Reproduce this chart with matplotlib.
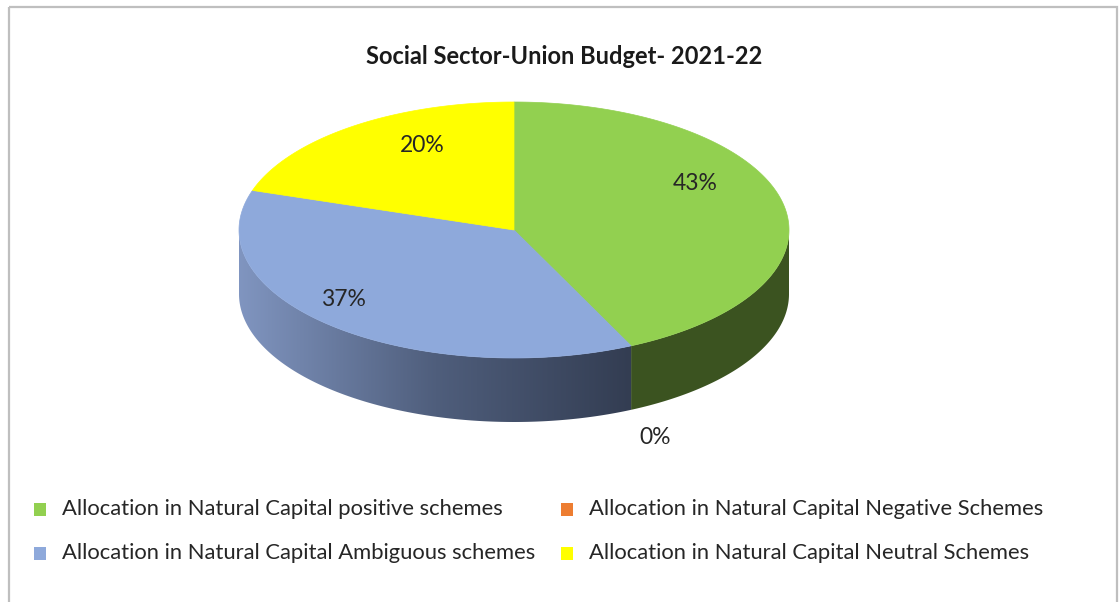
import numpy as np
import matplotlib.pyplot as plt
from matplotlib.patches import Polygon, Rectangle
from matplotlib.colors import LinearSegmentedColormap

plt.rcParams['font.family'] = ['Lato', 'DejaVu Sans']

title = 'Social Sector-Union Budget- 2021-22'
labels = [
    'Allocation in Natural Capital positive schemes',
    'Allocation in Natural Capital Negative Schemes',
    'Allocation in Natural Capital Ambiguous schemes',
    'Allocation in Natural Capital Neutral Schemes',
]
shares = [43, 0, 37, 20]
top_colors = ['#92D050', '#ED7D31', '#8EA9DB', '#FFFF00']
side_colors = ['#3B5320', '#8A4A1C', None, '#999900']
# blue wall is shaded with a left-to-right gradient
blue_wall = LinearSegmentedColormap.from_list('wall', ['#8095C0', '#4F5E7C', '#333D52'])

# label anchors (pixels) for each slice value
label_pos = [(695, 183), (655, 438), (343, 300), (422, 146)]

W, H = 1119, 602
fig = plt.figure(figsize=(W / 100, H / 100), dpi=100)
ax = fig.add_axes([0, 0, 1, 1])
ax.set_xlim(0, W)
ax.set_ylim(H, 0)
ax.axis('off')

# chart frame
ax.add_patch(Rectangle((9, 7), 1108, 620, fill=False, ec='#BFBFBF', lw=1.6, zorder=0))

cx, cy, rx, ry, depth = 514, 230, 275, 128, 64


def arc(a0, a1, n=200, dy=0):
    t = np.radians(np.linspace(a0, a1, n))
    return np.column_stack([cx + rx * np.cos(t), cy - ry * np.sin(t) + dy])


# slice angles, clockwise from 12 o'clock
starts, ends = [], []
a = 90.0
for v in shares:
    starts.append(a)
    a -= v / 100 * 360
    ends.append(a)

# front walls
for i, (s, e) in enumerate(zip(starts, ends)):
    hi, lo = min(s, 0), max(e, -180)
    if hi - lo <= 0:
        continue
    top = arc(hi, lo)
    bot = arc(lo, hi, dy=depth)
    poly = Polygon(np.vstack([top, bot]), closed=True, lw=0, zorder=2)
    if side_colors[i] is None:
        poly.set_facecolor('none')
        ax.add_patch(poly)
        grad = np.linspace(0, 1, 256).reshape(1, -1)
        x0 = cx + rx * np.cos(np.radians(lo))
        x1 = cx + rx * np.cos(np.radians(hi))
        im = ax.imshow(grad, cmap=blue_wall, aspect='auto', zorder=2,
                       extent=[x0, x1, cy + ry + depth + 5, cy - 10])
        im.set_clip_path(poly)
    else:
        poly.set_facecolor(side_colors[i])
        ax.add_patch(poly)

# top surface
for i, (s, e) in enumerate(zip(starts, ends)):
    if s == e:
        continue
    pts = np.vstack([[cx, cy], arc(s, e)])
    ax.add_patch(Polygon(pts, closed=True, fc=top_colors[i], ec=top_colors[i],
                         lw=0.5, zorder=3))

ax.set_xlim(0, W)
ax.set_ylim(H, 0)

for v, (x, y) in zip(shares, label_pos):
    ax.text(x, y, f'{v}%', ha='center', va='center', fontsize=16.5,
            color='#262626', zorder=5)

ax.text(564, 57, title, ha='center', va='center', fontsize=17,
        fontweight='bold', color='#1A1A1A')

# legend, two columns
cols = [34, 561]
rows = [509, 553]
for i, lab in enumerate(labels):
    x, y = cols[i % 2], rows[i // 2]
    ax.add_patch(Rectangle((x, y - 6.5), 12, 13, fc=top_colors[i], ec='none'))
    ax.text(x + 28, y, lab, ha='left', va='center', fontsize=15.8,
            color='#262626')

fig.savefig('out.png', dpi=100)
